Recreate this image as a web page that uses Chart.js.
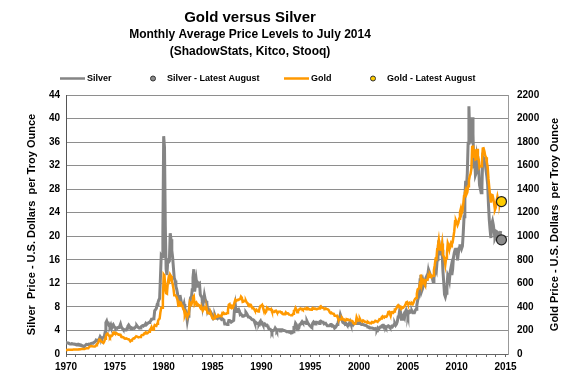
<!DOCTYPE html>
<html>
<head>
<meta charset="utf-8">
<script src="https://cdn.jsdelivr.net/npm/chart.js@4.4.1/dist/chart.umd.min.js"></script>
<style>
  html, body { margin: 0; padding: 0; background: #fff; }
</style>
</head>
<body>
<canvas id="goldSilverChart" width="575" height="390"></canvas>
<script>
// monthly averages, Jan 1970 .. Jul 2014 (one row per year)
const startYear = 1970
const endYear = 2015
const silverMonthly = [
  1.87, 1.90, 1.87, 1.86, 1.75, 1.68, 1.70, 1.78, 1.74, 1.71, 1.69, 1.64,
  1.64, 1.56, 1.55, 1.66, 1.62, 1.54, 1.57, 1.48, 1.39, 1.36, 1.31, 1.38,
  1.50, 1.63, 1.60, 1.63, 1.69, 1.64, 1.73, 1.80, 1.83, 1.86, 1.94, 2.01,
  2.11, 2.38, 2.30, 2.22, 2.42, 2.58, 2.95, 2.76, 2.51, 2.77, 2.85, 2.97,
  3.65, 5.34, 5.61, 5.16, 5.22, 4.81, 4.63, 4.93, 4.39, 4.81, 5.00, 4.73,
  4.50, 4.48, 4.42, 4.37, 4.51, 4.56, 4.70, 5.07, 4.58, 4.41, 4.21, 4.19,
  4.10, 4.06, 4.06, 4.39, 4.71, 4.92, 4.71, 4.47, 4.25, 4.41, 4.34, 4.40,
  4.36, 4.49, 4.70, 4.84, 4.66, 4.48, 4.39, 4.42, 4.58, 4.72, 4.82, 4.75,
  4.90, 4.96, 5.20, 5.01, 5.15, 5.26, 5.37, 5.46, 5.62, 5.90, 5.91, 5.97,
  6.12, 7.37, 7.53, 7.75, 8.43, 8.77, 9.18, 9.42, 12.93, 16.74, 16.54, 20.68,
  37.0, 35.1, 21.7, 14.4, 13.4, 15.8, 15.6, 15.8, 20.5, 19.5, 17.6, 16.4,
  14.6, 12.9, 12.5, 11.5, 11.0, 10.3, 9.1, 9.2, 10.0, 9.3, 8.6, 8.4,
  8.0, 8.5, 7.6, 7.4, 6.7, 5.6, 6.4, 6.9, 8.4, 9.5, 9.5, 10.9,
  13.0, 14.4, 10.6, 11.6, 12.6, 11.5, 12.1, 11.9, 12.0, 10.1, 9.8, 9.7,
  8.2, 9.0, 10.0, 9.3, 9.0, 8.7, 7.3, 7.6, 7.4, 7.3, 7.3, 6.8,
  6.3, 6.0, 6.1, 6.5, 6.1, 6.1, 6.0, 6.2, 6.1, 6.2, 6.1, 5.9,
  6.0, 5.9, 5.7, 5.1, 5.1, 5.1, 5.0, 5.2, 5.7, 5.7, 5.6, 5.4,
  5.5, 5.5, 5.7, 7.6, 8.4, 7.2, 7.6, 7.5, 7.6, 7.3, 6.7, 6.8,
  6.7, 6.4, 6.4, 6.5, 6.6, 7.1, 6.9, 6.6, 6.3, 6.3, 6.2, 6.1,
  5.9, 5.8, 5.8, 5.7, 5.3, 5.2, 5.3, 5.2, 5.2, 5.1, 5.4, 5.6,
  5.2, 5.3, 5.0, 5.0, 5.1, 4.9, 4.8, 4.9, 4.8, 4.3, 4.2, 4.2,
  4.0, 3.7, 4.0, 4.0, 4.1, 4.4, 4.2, 3.9, 4.1, 4.1, 4.1, 3.9,
  4.1, 4.1, 4.1, 4.0, 4.0, 4.0, 3.9, 3.8, 3.8, 3.8, 3.8, 3.7,
  3.7, 3.6, 3.6, 3.8, 4.5, 4.5, 5.2, 5.0, 4.1, 4.3, 4.4, 5.0,
  5.1, 5.3, 5.5, 5.3, 5.4, 5.4, 5.3, 5.2, 5.6, 5.3, 5.1, 4.9,
  4.8, 4.6, 4.5, 5.2, 5.4, 5.2, 5.1, 5.4, 5.4, 5.3, 5.3, 5.2,
  5.5, 5.6, 5.5, 5.4, 5.4, 5.1, 5.1, 5.2, 5.0, 4.8, 4.8, 4.8,
  4.8, 5.0, 5.0, 4.7, 4.8, 4.7, 4.4, 4.5, 4.7, 5.0, 5.1, 5.9,
  6.0, 6.7, 6.3, 6.3, 5.4, 5.3, 5.5, 5.1, 5.2, 5.0, 5.0, 4.9,
  5.2, 5.5, 5.1, 5.1, 5.3, 5.0, 5.2, 5.2, 5.2, 5.4, 5.2, 5.2,
  5.2, 5.3, 5.1, 5.0, 5.0, 5.0, 5.0, 4.9, 4.9, 4.8, 4.7, 4.6,
  4.6, 4.5, 4.4, 4.4, 4.4, 4.4, 4.3, 4.2, 4.3, 4.2, 4.1, 4.4,
  4.2, 4.4, 4.6, 4.6, 4.8, 4.9, 4.9, 4.5, 4.6, 4.4, 4.6, 4.7,
  4.8, 4.7, 4.5, 4.5, 4.7, 4.6, 4.8, 5.0, 5.2, 4.9, 5.1, 5.5,
  6.3, 6.5, 7.5, 7.1, 5.9, 5.9, 6.4, 6.7, 6.3, 7.2, 7.5, 7.2,
  6.6, 7.2, 7.3, 7.1, 7.2, 7.3, 7.0, 7.0, 7.0, 7.4, 7.6, 8.3,
  9.1, 9.6, 10.4, 12.6, 13.4, 10.7, 11.1, 12.2, 11.6, 11.7, 12.9, 13.2,
  13.0, 14.0, 13.2, 13.7, 13.3, 13.2, 12.9, 12.3, 12.9, 13.7, 14.6, 14.2,
  16.0, 17.6, 19.3, 17.2, 17.0, 17.0, 17.7, 14.2, 12.3, 10.1, 9.7, 10.3,
  11.4, 13.4, 13.1, 12.5, 14.0, 14.7, 13.4, 14.4, 16.4, 17.2, 17.7, 17.8,
  17.8, 15.9, 17.1, 18.0, 18.4, 18.4, 17.9, 18.3, 20.5, 23.3, 26.6, 29.4,
  28.4, 30.7, 35.8, 42.1, 37.1, 35.8, 37.3, 40.2, 37.4, 31.5, 33.0, 30.4,
  30.8, 33.6, 32.9, 31.5, 28.7, 28.1, 27.4, 28.6, 33.5, 33.3, 32.7, 32.4,
  31.2, 30.2, 28.8, 25.4, 22.8, 21.1, 19.7, 22.1, 22.6, 21.9, 20.8, 19.6,
  19.9, 20.8, 20.7, 19.7, 19.4, 19.9, 20.9
]
const goldMonthly = [
  34.9, 35.0, 35.1, 35.6, 35.9, 35.4, 35.3, 35.4, 36.2, 37.5, 37.4, 37.4,
  37.9, 38.7, 38.9, 39.0, 40.5, 40.1, 41.0, 42.7, 42.0, 42.5, 42.9, 43.5,
  45.8, 48.3, 48.3, 49.0, 54.6, 62.1, 65.7, 67.0, 65.5, 64.9, 62.9, 63.9,
  65.1, 74.2, 84.4, 90.5, 102.0, 122.5, 120.0, 106.8, 103.0, 100.1, 94.8, 106.7,
  129.2, 150.2, 168.4, 172.2, 163.3, 154.1, 143.0, 154.6, 151.8, 158.8, 181.7, 183.9,
  176.3, 179.6, 178.2, 169.8, 167.5, 164.3, 165.1, 163.2, 144.0, 142.5, 142.8, 139.3,
  131.6, 130.7, 132.7, 128.4, 126.9, 125.9, 118.2, 107.6, 114.3, 117.7, 129.0, 133.6,
  132.3, 142.2, 148.3, 149.2, 146.7, 140.8, 143.3, 144.6, 149.6, 159.8, 160.9, 161.0,
  173.2, 178.2, 183.7, 175.1, 176.3, 183.7, 188.7, 206.2, 212.2, 227.3, 206.1, 207.8,
  227.3, 245.7, 242.1, 239.2, 257.6, 279.1, 294.7, 300.8, 355.1, 391.7, 391.9, 455.1,
  675, 665, 554, 517, 513, 600, 644, 627, 674, 662, 623, 595,
  557, 500, 500, 495, 480, 460, 409, 410, 440, 437, 413, 410,
  384, 374, 330, 350, 334, 315, 339, 364, 436, 422, 417, 444,
  481, 491, 420, 432, 438, 413, 423, 416, 411, 394, 382, 388,
  370, 385, 395, 381, 377, 378, 348, 348, 342, 340, 341, 320,
  303, 298, 304, 325, 316, 317, 317, 330, 323, 326, 325, 321,
  345, 339, 346, 340, 342, 342, 348, 376, 418, 423, 395, 391,
  408, 401, 409, 438, 460, 450, 450, 461, 460, 465, 467, 487,
  478, 442, 444, 452, 451, 452, 437, 432, 413, 406, 420, 418,
  404, 388, 390, 384, 371, 367, 375, 365, 362, 367, 394, 409,
  410, 417, 393, 374, 369, 352, 362, 395, 389, 380, 381, 378,
  383, 363, 363, 358, 357, 367, 368, 356, 349, 359, 360, 361,
  354, 354, 345, 338, 337, 341, 353, 343, 345, 344, 335, 334,
  329, 330, 330, 342, 367, 372, 392, 379, 355, 364, 374, 383,
  387, 382, 384, 377, 381, 386, 385, 380, 391, 389, 384, 379,
  379, 376, 382, 391, 385, 387, 386, 383, 383, 383, 386, 387,
  400, 405, 396, 393, 392, 385, 383, 387, 383, 381, 378, 369,
  355, 347, 352, 344, 344, 341, 324, 324, 323, 325, 306, 289,
  289, 297, 296, 308, 299, 292, 293, 284, 289, 296, 294, 291,
  287, 287, 286, 282, 277, 261, 256, 257, 265, 311, 293, 283,
  284, 300, 286, 280, 275, 286, 282, 274, 274, 270, 266, 272,
  266, 262, 263, 261, 272, 270, 268, 273, 283, 280, 276, 275,
  282, 296, 294, 302, 314, 321, 314, 310, 319, 317, 319, 333,
  357, 359, 340, 328, 355, 356, 351, 360, 379, 379, 389, 407,
  414, 405, 406, 404, 384, 392, 398, 400, 406, 420, 439, 442,
  424, 423, 434, 429, 422, 431, 424, 438, 456, 470, 476, 510,
  549, 555, 557, 610, 676, 596, 633, 632, 598, 585, 627, 629,
  631, 665, 655, 679, 667, 655, 665, 665, 713, 754, 806, 803,
  889, 922, 968, 909, 888, 890, 939, 839, 829, 806, 760, 816,
  858, 943, 924, 890, 928, 946, 934, 949, 996, 1043, 1127, 1135,
  1118, 1095, 1113, 1148, 1205, 1233, 1193, 1215, 1271, 1343, 1370, 1391,
  1356, 1372, 1424, 1474, 1512, 1529, 1572, 1756, 1772, 1666, 1739, 1652,
  1656, 1743, 1674, 1650, 1585, 1596, 1594, 1630, 1745, 1747, 1722, 1685,
  1671, 1628, 1592, 1487, 1414, 1343, 1286, 1352, 1349, 1316, 1275, 1225,
  1244, 1300, 1336, 1299, 1288, 1279, 1311
]
// latest August 2014 readings
const latestMonth = [2014.58]
const silverLatest = [19.4]
const goldLatest = [1295]

const titleLines = ['Gold versus Silver', 'Monthly Average Price Levels to July 2014', '(ShadowStats, Kitco, Stooq)']
const silverAxisTitle = 'Silver  Price - U.S. Dollars  per Troy Ounce'
const goldAxisTitle = 'Gold Price - U.S. Dollars  per Troy Ounce'

const FONT = "'Liberation Sans', Arial, sans-serif"
const silverColor = '#858585'
const goldColor = '#ff9900'

function monthPoints(values) {
  return values.map((v, i) => ({ x: startYear + i / 12, y: v }))
}

// titles, legend and the right axis title are drawn by hand
const overlayPlugin = {
  id: 'overlay',
  afterDraw(chart) {
    const ctx = chart.ctx
    ctx.save()
    ctx.fillStyle = '#000'
    ctx.textAlign = 'center'
    ctx.textBaseline = 'middle'
    ctx.font = 'bold 15px ' + FONT
    ctx.fillText(titleLines[0], 250, 18)
    ctx.font = 'bold 12px ' + FONT
    ctx.fillText(titleLines[1], 250, 35)
    ctx.fillText(titleLines[2], 250, 52)

    // legend
    const ly = 78
    ctx.font = 'bold 9px ' + FONT
    ctx.textAlign = 'left'
    const items = [
      { text: 'Silver', kind: 'line', color: silverColor, x: 60, tx: 87 },
      { text: 'Silver - Latest August', kind: 'dot', color: '#8c8c8c', x: 153, tx: 167 },
      { text: 'Gold', kind: 'line', color: goldColor, x: 284, tx: 311 },
      { text: 'Gold - Latest August', kind: 'dot', color: '#ffcc00', x: 373, tx: 387 }
    ]
    items.forEach(item => {
      if (item.kind === 'line') {
        ctx.strokeStyle = item.color
        ctx.lineWidth = 2.5
        ctx.beginPath()
        ctx.moveTo(item.x, ly + 0.5)
        ctx.lineTo(item.x + 25, ly + 0.5)
        ctx.stroke()
      } else {
        ctx.fillStyle = item.color
        ctx.strokeStyle = '#333'
        ctx.lineWidth = 1
        ctx.beginPath()
        ctx.arc(item.x, ly + 0.5, 2.5, 0, Math.PI * 2)
        ctx.fill()
        ctx.stroke()
      }
      ctx.fillStyle = '#000'
      ctx.fillText(item.text, item.tx, ly + 0.5)
    })

    // right axis title, reading upwards
    const area = chart.chartArea
    ctx.translate(555, (area.top + area.bottom) / 2)
    ctx.rotate(-Math.PI / 2)
    ctx.textAlign = 'center'
    ctx.font = 'bold 11px ' + FONT
    ctx.fillText(goldAxisTitle, 0, 0)
    ctx.restore()
  }
}

const chartCtx = document.getElementById('goldSilverChart').getContext('2d')
const goldSilverChart = new Chart(chartCtx, {
  type: 'line',
  data: {
    datasets: [{
      label: 'Silver',
      data: monthPoints(silverMonthly),
      borderColor: silverColor,
      borderWidth: 3,
      pointRadius: 0,
      yAxisID: 'y',
      order: 2
    }, {
      label: 'Gold',
      data: monthPoints(goldMonthly),
      borderColor: goldColor,
      borderWidth: 2.5,
      pointRadius: 0,
      yAxisID: 'y2',
      order: 1
    }, {
      label: 'Silver - Latest August',
      data: latestMonth.map((x, i) => ({ x: x, y: silverLatest[i] })),
      showLine: false,
      pointRadius: 5,
      pointBackgroundColor: '#8c8c8c',
      pointBorderColor: '#222',
      pointBorderWidth: 1.2,
      yAxisID: 'y',
      order: 0
    }, {
      label: 'Gold - Latest August',
      data: latestMonth.map((x, i) => ({ x: x, y: goldLatest[i] })),
      showLine: false,
      pointRadius: 5,
      pointBackgroundColor: '#ffcc00',
      pointBorderColor: '#222',
      pointBorderWidth: 1.2,
      yAxisID: 'y2',
      order: 0
    }]
  },
  options: {
    responsive: false,
    animation: false,
    devicePixelRatio: 1,
    layout: {
      padding: { top: 95, left: 20, right: 0, bottom: 0 }
    },
    plugins: {
      legend: { display: false },
      title: { display: false },
      tooltip: { enabled: false }
    },
    scales: {
      x: {
        type: 'linear',
        min: startYear,
        max: endYear + 0.25,
        // one tick mark per year, labels every five years
        afterBuildTicks: scale => {
          const ticks = []
          for (let yr = startYear; yr <= endYear; yr++) ticks.push({ value: yr })
          scale.ticks = ticks
        },
        ticks: {
          autoSkip: false,
          maxRotation: 0,
          padding: 4,
          color: '#000',
          font: { family: FONT, size: 10, weight: 'bold' },
          callback: v => (v % 5 === 0 ? String(v) : '')
        },
        grid: { drawOnChartArea: false, drawTicks: true, tickLength: 3, color: '#666' },
        border: { color: '#666' },
        afterFit: scale => { scale.height = 36 }
      },
      y: {
        position: 'left',
        min: 0,
        max: 44,
        ticks: {
          stepSize: 4,
          padding: 6,
          color: '#000',
          font: { family: FONT, size: 10, weight: 'bold' },
          callback: v => String(v)
        },
        grid: { color: '#8e8e8e', drawTicks: false },
        border: { color: '#555' },
        title: {
          display: true,
          text: silverAxisTitle,
          color: '#000',
          padding: { top: 5, bottom: 0 },
          font: { family: FONT, size: 11, weight: 'bold' }
        },
        afterFit: scale => { scale.width = 46 }
      },
      y2: {
        position: 'right',
        min: 0,
        max: 2200,
        ticks: {
          stepSize: 200,
          padding: 9,
          color: '#000',
          font: { family: FONT, size: 10, weight: 'bold' },
          callback: v => String(v)
        },
        grid: { drawOnChartArea: false, drawTicks: false },
        border: { color: '#999' },
        afterFit: scale => { scale.width = 67 }
      }
    }
  },
  plugins: [overlayPlugin]
})
</script>
</body>
</html>
